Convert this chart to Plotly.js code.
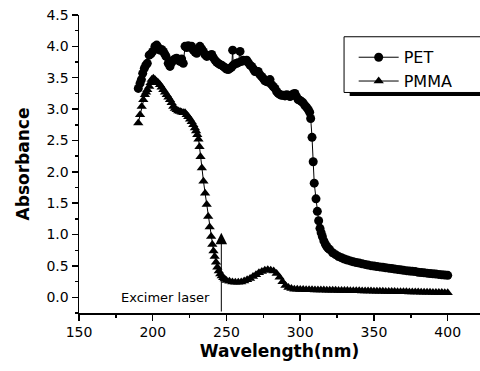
<!DOCTYPE html>
<html><head><meta charset="utf-8">
<script src="https://cdn.plot.ly/plotly-3.0.1.min.js"></script>
<style>html,body{margin:0;padding:0;background:#fff}#c{width:480px;height:371px}</style>
</head><body><div id="c"></div>
<script>
// PET absorbance (wavelength nm, absorbance)
const petX = [190.2,191.4,192.3,193.2,194.3,195.3,196.3,197.6,198.8,200.0,201.5,202.7,203.8,204.9,206.0,207.2,208.1,209.0,210.5,211.7,212.8,213.9,215.0,216.2,217.3,218.4,219.6,220.7,221.9,223.0,224.1,225.3,226.4,227.5,228.7,229.8,230.9,232.0,233.2,234.3,235.4,236.6,237.7,238.8,240.0,241.1,242.2,243.3,244.4,245.6,246.7,247.8,249.0,250.1,251.2,252.4,253.5,254.2,254.6,255.8,256.9,258.0,259.2,260.3,261.4,262.6,263.7,264.8,266.0,267.1,268.3,269.3,270.5,271.5,272.6,273.8,274.9,276.0,277.2,278.3,279.5,280.6,281.7,282.9,284.0,285.1,286.3,287.4,288.5,289.7,290.8,292.0,293.1,294.2,295.3,296.4,297.5,298.6,299.8,300.9,302.0,303.1,304.3,305.5,306.4,307.1,308.0,308.8,309.5,310.7,311.6,312.5,313.4,314.2,315,316,317,318,319,320,322,324,326,328,330,332,334,336,338,340,342,344,346,348,350,352,354,356,358,360,362,364,366,368,370,372,374,376,378,380,382,384,386,388,390,392,394,396,398,400];
const petY = [3.33,3.41,3.47,3.57,3.65,3.70,3.73,3.86,3.88,3.92,4.00,4.02,3.98,3.94,3.95,3.92,3.88,3.84,3.73,3.68,3.74,3.78,3.80,3.81,3.78,3.76,3.80,3.73,4.00,3.98,4.01,3.99,4.00,3.94,3.91,3.89,3.96,4.00,3.96,3.92,3.87,3.84,3.85,3.86,3.87,3.82,3.78,3.75,3.73,3.71,3.70,3.68,3.66,3.64,3.63,3.65,3.67,3.94,3.70,3.72,3.73,3.74,3.92,3.76,3.78,3.77,3.78,3.74,3.70,3.68,3.64,3.60,3.60,3.60,3.55,3.52,3.49,3.45,3.44,3.43,3.47,3.39,3.36,3.33,3.28,3.25,3.23,3.22,3.22,3.21,3.23,3.22,3.20,3.22,3.24,3.25,3.20,3.15,3.14,3.12,3.10,3.06,3.03,2.99,2.95,2.85,2.55,2.16,1.82,1.57,1.37,1.22,1.10,1.03,0.97,0.90,0.85,0.81,0.78,0.76,0.71,0.68,0.65,0.63,0.61,0.595,0.58,0.565,0.555,0.545,0.535,0.525,0.515,0.505,0.50,0.49,0.485,0.48,0.47,0.465,0.46,0.45,0.445,0.44,0.43,0.425,0.42,0.415,0.41,0.40,0.395,0.39,0.385,0.38,0.375,0.37,0.365,0.36,0.355,0.35];
// PMMA absorbance
const pmmaX = [190.2,191.4,192.5,193.6,194.7,195.5,196.3,197.6,198.5,199.3,200.4,201.5,202.7,203.8,204.9,206.0,207.2,208.3,209.5,210.6,211.7,212.8,213.9,215.0,216.2,217.3,218.5,219.6,220.8,221.9,223.0,224.1,225.3,226.4,227.5,228.6,229.4,230.2,231.0,231.7,232.4,233.3,234.4,235.5,236.6,237.6,238.6,239.6,240.4,241.2,242.0,242.9,243.8,244.8,245.8,246.8,247.8,248.8,250,252,254,256,258,260,262,264,266,268,270,272,274,276,278,280,282,284,286,288,290,292,294,296,298,300,302,304,306,308,310,312,314,316,318,320,322,324,326,328,330,332,334,336,338,340,342,344,346,348,350,352,354,356,358,360,362,364,366,368,370,372,374,376,378,380,382,384,386,388,390,392,394,396,398,400];
const pmmaY = [2.78,2.91,3.04,3.15,3.23,3.27,3.31,3.36,3.42,3.47,3.49,3.47,3.44,3.42,3.39,3.35,3.31,3.27,3.23,3.19,3.15,3.10,3.04,3.01,2.99,2.97,2.96,2.95,2.94,2.94,2.91,2.88,2.84,2.80,2.75,2.70,2.65,2.59,2.52,2.40,2.24,2.06,1.85,1.66,1.48,1.29,1.12,0.97,0.84,0.74,0.65,0.56,0.48,0.42,0.37,0.34,0.31,0.29,0.27,0.255,0.245,0.24,0.24,0.245,0.26,0.28,0.30,0.33,0.36,0.39,0.41,0.43,0.44,0.43,0.42,0.38,0.32,0.25,0.19,0.155,0.14,0.13,0.13,0.125,0.124,0.122,0.12,0.12,0.118,0.117,0.116,0.115,0.114,0.113,0.112,0.111,0.11,0.109,0.108,0.107,0.106,0.105,0.104,0.103,0.102,0.101,0.10,0.099,0.098,0.097,0.096,0.095,0.094,0.093,0.092,0.091,0.09,0.089,0.088,0.087,0.086,0.085,0.084,0.083,0.082,0.081,0.08,0.079,0.078,0.077,0.076,0.075,0.074,0.073,0.072,0.071,0.07];
const seriesNames = ['PET','PMMA'];
const xTicks = [150,200,250,300,350,400];
const laserWavelength = 246.5;
const laserArrowTop = 1.03;
const laserLabel = 'Excimer laser';

const F = 'DejaVu Sans, Arial, sans-serif';
const traces = [
  {x: petX, y: petY, name: seriesNames[0], type: 'scatter', mode: 'lines+markers',
   line: {color: '#000', width: 1}, marker: {symbol: 'circle', size: 9, color: '#000'}},
  {x: pmmaX, y: pmmaY, name: seriesNames[1], type: 'scatter', mode: 'lines+markers',
   line: {color: '#000', width: 1}, marker: {symbol: 'triangle-up', size: 9, color: '#000'}}
];
const layout = {
  width: 480, height: 371,
  margin: {l: 79, r: 0, t: 15, b: 58},
  paper_bgcolor: '#fff', plot_bgcolor: '#fff',
  font: {family: F, color: '#000'},
  showlegend: true,
  legend: {x: 0.685, y: 0.915, xanchor: 'left', yanchor: 'top', bgcolor: 'rgba(0,0,0,0)',
           borderwidth: 0, font: {family: F, size: 16, color: '#000'}, itemwidth: 40},
  xaxis: {range: [150, 421.9], tickvals: xTicks, ticks: 'outside', ticklen: 6, tickwidth: 1.5,
          tickcolor: '#000', showline: true, linewidth: 1.5, linecolor: '#000', showgrid: false,
          zeroline: false, tickfont: {family: F, size: 14, color: '#000'},
          minor: {dtick: 25, ticks: 'outside', ticklen: 3, tickcolor: '#000', showgrid: false},
          title: {text: 'Wavelength(nm)', standoff: 6, font: {family: F, size: 17, weight: 'bold', color: '#000'}}},
  yaxis: {range: [-0.25, 4.5], tick0: 0, dtick: 0.5, tickformat: '.1f', ticks: 'outside', ticklen: 6,
          tickwidth: 1.5, tickcolor: '#000', showline: true, linewidth: 1.5, linecolor: '#000',
          showgrid: false, zeroline: false, tickfont: {family: F, size: 14, color: '#000'},
          minor: {dtick: 0.25, ticks: 'outside', ticklen: 3, tickcolor: '#000', showgrid: false},
          title: {text: 'Absorbance', standoff: 12, font: {family: F, size: 17, weight: 'bold', color: '#000'}}},
  shapes: [
    {type: 'rect', xref: 'paper', yref: 'paper', x0: 0.661, x1: 1.05, y0: 0.74, y1: 0.927,
     line: {color: '#000', width: 1}, fillcolor: 'rgba(0,0,0,0)'},
    {type: 'rect', xref: 'paper', yref: 'paper', x0: 0.675, x1: 1.05, y0: 0.728, y1: 0.74,
     line: {width: 0}, fillcolor: '#000'}
  ],
  annotations: [
    {x: laserWavelength, y: laserArrowTop, ax: laserWavelength, ay: -0.25, axref: 'x', ayref: 'y',
     xref: 'x', yref: 'y', text: '', showarrow: true, arrowhead: 2, arrowsize: 2.3, arrowwidth: 1, arrowcolor: '#000'},
    {x: 240, y: 0.0, xref: 'x', yref: 'y', text: laserLabel, showarrow: false, xanchor: 'right',
     yanchor: 'middle', font: {family: F, size: 13, color: '#000'}}
  ]
};
Plotly.newPlot('c', traces, layout, {displayModeBar: false, staticPlot: true});
</script></body></html>
